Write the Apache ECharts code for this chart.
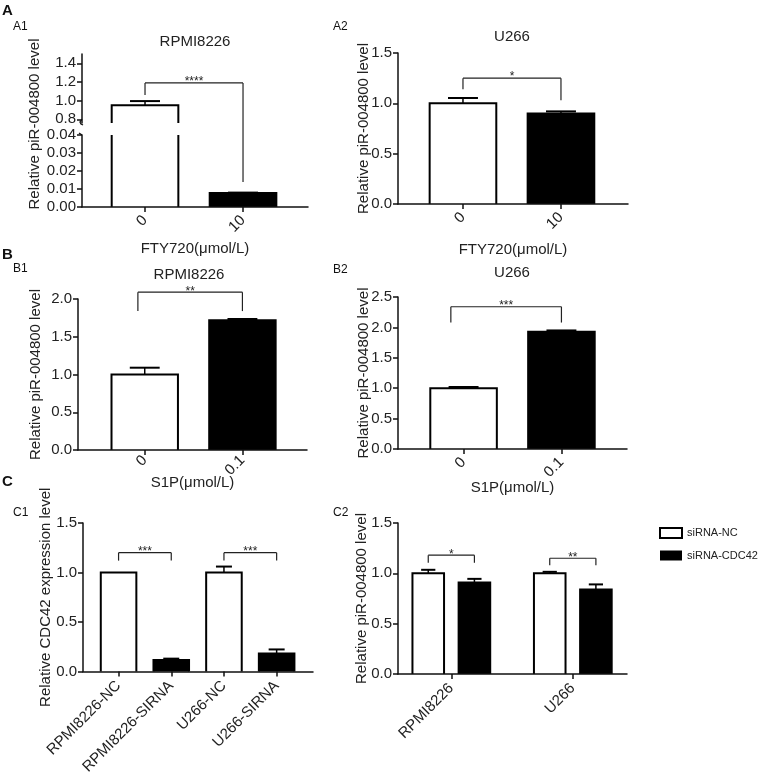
<!DOCTYPE html>
<html><head><meta charset="utf-8">
<script src="https://cdn.jsdelivr.net/npm/echarts@6/dist/echarts.min.js"></script>
<style>html,body{margin:0;padding:0;background:#fff}#c{width:767px;height:777px}</style>
</head><body><div id="c"></div><script>
// ---------------- data ----------------
const catsA = ['0', '10'];
const catsB = ['0', '0.1'];
const catsC1 = ['RPMI8226-NC', 'RPMI8226-SIRNA', 'U266-NC', 'U266-SIRNA'];
const catsC2 = ['RPMI8226', 'U266'];
const legendNames = ['siRNA-NC', 'siRNA-CDC42'];

const a1Mean = [0.95, 0.0078];
const a1Sem = [0.045, 0.0002];
const a2Mean = [1.0, 0.90];
const a2Sem = [0.053, 0.02];
const b1Mean = [1.0, 1.72];
const b1Sem = [0.09, 0.015];
const b2Mean = [1.0, 1.93];
const b2Sem = [0.02, 0.02];
const c1Mean = [1.0, 0.117, 1.0, 0.183];
const c1Sem = [0, 0.013, 0.06, 0.04];
const c2NcMean = [1.0, 1.0];
const c2NcSem = [0.035, 0.015];
const c2SiMean = [0.91, 0.84];
const c2SiSem = [0.035, 0.05];

// significance brackets: [xLeft, xRight, yBracket, yLeftEnd, yRightEnd]
const sigA1 = [[0, 1, 1.19, 1.06, 0.0139]];
const sigA1Text = ['****'];
const sigA2 = [[0, 1, 1.25, 1.14, 1.03]];
const sigA2Text = ['*'];
const sigB1 = [[-0.07, 1, 2.09, 1.84, 1.84]];
const sigB1Text = ['**'];
const sigB2 = [[-0.13, 1, 2.34, 2.08, 2.08]];
const sigB2Text = ['***'];
const sigC1 = [[0, 1, 1.2, 1.12, 1.12], [2, 3, 1.2, 1.12, 1.12]];
const sigC1Text = ['***', '***'];
const sigC2 = [[-0.19, 0.19, 1.18, 1.105, 1.105], [0.81, 1.19, 1.15, 1.08, 1.08]];
const sigC2Text = ['*', '**'];

const a1UpperTicks = [0.8, 1.0, 1.2, 1.4];

// ---------------- helpers ----------------
const FONT = 'Liberation Sans, Arial, sans-serif';
const INK = '#111';
const toData = (m, s) => m.map((v, i) => [i, v, s[i]]);
const idx = (cats) => cats.map((_, i) => i);

function makeBarRender(fills, bw, offset) {
  return function (params, api) {
    const cs = params.coordSys;
    const x = api.value(0) + offset, v = api.value(1), e = api.value(2);
    const p = api.coord([x, v]);
    const base = api.coord([x, 0]);
    const hw = api.size([bw, 0])[0] / 2;
    const top0 = cs.y, bot0 = cs.y + cs.height;
    let yTop = p[1];
    const yBase = Math.min(base[1], bot0);
    if (yTop >= bot0) return { type: 'group', children: [] };
    const capped = yTop < top0;
    if (capped) yTop = top0;
    const l = p[0] - hw, r = p[0] + hw;
    const fill = fills[params.dataIndex % fills.length];
    const ls = { stroke: '#000', lineWidth: 2, fill: null };
    const ch = [{ type: 'rect', shape: { x: l, y: yTop, width: r - l, height: yBase - yTop }, style: { fill: fill } }];
    if (capped) {
      ch.push({ type: 'line', shape: { x1: l, y1: yTop, x2: l, y2: yBase }, style: ls });
      ch.push({ type: 'line', shape: { x1: r, y1: yTop, x2: r, y2: yBase }, style: ls });
    } else {
      ch.push({ type: 'polyline', shape: { points: [[l, yBase], [l, yTop], [r, yTop], [r, yBase]] }, style: ls });
      if (e > 0) {
        const pe = api.coord([x, v + e]);
        const cw = hw * 0.45;
        ch.push({ type: 'line', shape: { x1: p[0], y1: yTop, x2: p[0], y2: pe[1] }, style: { stroke: '#000', lineWidth: 1.5 } });
        ch.push({ type: 'line', shape: { x1: p[0] - cw, y1: pe[1], x2: p[0] + cw, y2: pe[1] }, style: { stroke: '#000', lineWidth: 2 } });
      }
    }
    return { type: 'group', children: ch };
  };
}

function makeSigRender(texts, ext) {
  return function (params, api) {
    const cs = params.coordSys;
    const x1 = api.value(0), x2 = api.value(1), y = api.value(2), yl = api.value(3), yr = api.value(4);
    const a = api.coord([x1, y]), b = api.coord([x2, y]);
    const c = api.coord([x1, yl]), d = api.coord([x2, yr]);
    const lo = cs.y - (ext || 0), hi = cs.y + cs.height + (ext || 0);
    const clamp = ext == null ? (t => t) : (t => Math.min(Math.max(t, lo), hi));
    const st = { stroke: '#222', lineWidth: 1.2 };
    const ch = [];
    const seg = (xx, y1, y2) => {
      const u = clamp(y1), w = clamp(y2);
      if (Math.abs(u - w) > 0.5) ch.push({ type: 'line', shape: { x1: xx, y1: u, x2: xx, y2: w }, style: st });
    };
    seg(a[0], a[1], c[1]);
    seg(b[0], b[1], d[1]);
    const inRange = ext == null || (a[1] >= lo && a[1] <= hi);
    if (inRange) {
      ch.push({ type: 'line', shape: { x1: a[0], y1: a[1], x2: b[0], y2: b[1] }, style: st });
      ch.push({ type: 'text', x: (a[0] + b[0]) / 2, y: a[1] + 5,
        style: { text: texts[params.dataIndex], font: '12px ' + FONT, fill: '#222',
          textAlign: 'center', align: 'center', textVerticalAlign: 'bottom', verticalAlign: 'bottom' } });
    }
    return { type: 'group', children: ch };
  };
}

// small axis-break hook drawn at the end of a y-axis segment (decoration only)
function makeBreakRender(atBottom) {
  return function (params) {
    const cs = params.coordSys;
    const x = cs.x, y = atBottom ? cs.y + cs.height : cs.y;
    return { type: 'polyline', shape: { points: atBottom
        ? [[x, y - 4], [x - 2, y - 1], [x - 1, y + 1], [x + 1, y + 2]]
        : [[x - 3, y - 2], [x, y]] },
      style: { stroke: INK, lineWidth: 1.3, fill: null } };
  };
}

const axLine = { color: INK, width: 1.5 };
const nameStyle = { fontSize: 15, color: '#222', fontFamily: FONT };
function xAx(gi, min, max, cats, name, nameGap, show, margin) {
  const t = idx(cats);
  return {
    gridIndex: gi, type: 'value', min: min, max: max, show: show !== false, z: 3,
    splitLine: { show: false },
    axisLine: { onZero: false, lineStyle: axLine },
    axisTick: { show: true, length: 5, lineStyle: axLine, customValues: t },
    axisLabel: { customValues: t, rotate: 45, margin: margin || 11, fontSize: 15, color: '#222', fontFamily: FONT,
      formatter: v => cats[Math.round(v)] },
    name: name || '', nameLocation: 'middle', nameGap: nameGap || 30, nameMoveOverlap: false,
    nameTextStyle: nameStyle
  };
}
function yAx(gi, min, max, interval, dec, name, nameGap, ticks) {
  const o = {
    gridIndex: gi, type: 'value', min: min, max: max, z: 3,
    splitLine: { show: false },
    axisLine: { show: true, onZero: false, lineStyle: axLine },
    axisTick: { show: true, length: 5, lineStyle: axLine },
    axisLabel: { margin: 6, fontSize: 15, color: '#222', fontFamily: FONT, formatter: v => v.toFixed(dec) },
    name: name || '', nameLocation: 'middle', nameRotate: 90, nameGap: nameGap || 30, nameMoveOverlap: false,
    nameTextStyle: nameStyle
  };
  if (interval != null) o.interval = interval;
  if (ticks) { o.axisTick.customValues = ticks; o.axisLabel.customValues = ticks; }
  return o;
}

const yTitle = 'Relative piR-004800 level';
const grids = [
  { left: 82, top: 54, width: 226, height: 69 },   // 0 A1 upper
  { left: 82, top: 135, width: 226, height: 72 },  // 1 A1 lower
  { left: 398, top: 53, width: 230, height: 151 }, // 2 A2
  { left: 78, top: 299, width: 229, height: 151 }, // 3 B1
  { left: 398, top: 297, width: 229, height: 152 },// 4 B2
  { left: 83, top: 523, width: 230, height: 151 }, // 5 C1
  { left: 398, top: 523, width: 229, height: 151 } // 6 C2
];

const xAxes = [
  xAx(0, -0.643, 1.663, catsA, '', 30, false),
  xAx(1, -0.643, 1.663, catsA, 'FTY720(μmol/L)', 34),
  xAx(2, -0.663, 1.684, catsA, 'FTY720(μmol/L)', 38),
  xAx(3, -0.683, 1.661, catsB, 'S1P(μmol/L)', 25, true, 8),
  xAx(4, -0.67, 1.67, catsB, 'S1P(μmol/L)', 31),
  xAx(5, -0.675, 3.69, catsC1, '', 30, true, 12),
  xAx(6, -0.439, 1.446, catsC2, '', 30, true, 12)
];
const yAxes = [
  yAx(0, 0.76, 1.5, null, 1, '', 30, a1UpperTicks),
  yAx(1, 0, 0.04, 0.01, 2, '', 30),
  yAx(2, 0, 1.5, 0.5, 1, yTitle, 27),
  yAx(3, 0, 2.0, 0.5, 1, yTitle, 35),
  yAx(4, 0, 2.5, 0.5, 1, yTitle, 27),
  yAx(5, 0, 1.5, 0.5, 1, 'Relative CDC42 expression level', 30),
  yAx(6, 0, 1.5, 0.5, 1, yTitle, 29)
];

function bars(gi, data, fills, bw, offset, name) {
  return { type: 'custom', name: name, xAxisIndex: gi, yAxisIndex: gi, data: data, encode: { x: 0, y: 1 },
    renderItem: makeBarRender(fills, bw, offset || 0), z: 2,
    itemStyle: { color: fills[0], borderColor: '#000' } };
}
function sig(gi, data, texts, ext) {
  return { type: 'custom', xAxisIndex: gi, yAxisIndex: gi, data: data, encode: { x: 0, y: 2 },
    renderItem: makeSigRender(texts, ext), z: 4 };
}
function brk(gi, atBottom) {
  return { type: 'custom', xAxisIndex: gi, yAxisIndex: gi, data: [[0, 0]], silent: true,
    renderItem: makeBreakRender(atBottom), z: 5 };
}
const WB = ['#fff', '#000'];
const series = [
  bars(0, toData(a1Mean, a1Sem), WB, 0.68),
  bars(1, toData(a1Mean, a1Sem), WB, 0.68),
  sig(0, sigA1, sigA1Text, 6),
  sig(1, sigA1, sigA1Text, 6),
  brk(0, true),
  brk(1, false),
  bars(2, toData(a2Mean, a2Sem), WB, 0.68),
  sig(2, sigA2, sigA2Text),
  bars(3, toData(b1Mean, b1Sem), WB, 0.68),
  sig(3, sigB1, sigB1Text),
  bars(4, toData(b2Mean, b2Sem), WB, 0.68),
  sig(4, sigB2, sigB2Text),
  bars(5, toData(c1Mean, c1Sem), WB, 0.675),
  sig(5, sigC1, sigC1Text),
  bars(6, toData(c2NcMean, c2NcSem), ['#fff'], 0.26, -0.19, legendNames[0]),
  bars(6, toData(c2SiMean, c2SiSem), ['#000'], 0.26, 0.19, legendNames[1]),
  sig(6, sigC2, sigC2Text)
];

function txt(s, x, y, size, opts) {
  return Object.assign({ type: 'text', x: x, y: y, silent: true,
    style: Object.assign({ text: s, font: (opts && opts.bold ? 'bold ' : '') + size + 'px ' + FONT, fill: '#111',
      textAlign: 'left', align: 'left', textVerticalAlign: 'top', verticalAlign: 'top' }, (opts && opts.style) || {}) },
    (opts && opts.el) || {});
}
const center = { textAlign: 'center', align: 'center', textVerticalAlign: 'middle', verticalAlign: 'middle', fill: '#222' };
const graphics = [
  txt('A', 2, 3, 15, { bold: true }),
  txt('A1', 13, 21, 12),
  txt('A2', 333, 21, 12),
  txt('B', 2, 247, 15, { bold: true }),
  txt('B1', 13, 263, 12),
  txt('B2', 333, 264, 12),
  txt('C', 2, 474, 15, { bold: true }),
  txt('C1', 13, 507, 12),
  txt('C2', 333, 507, 12),
  txt('RPMI8226', 195, 42, 15, { style: center }),
  txt('U266', 512, 37, 15, { style: center }),
  txt('RPMI8226', 189, 275, 15, { style: center }),
  txt('U266', 512, 273, 15, { style: center }),
  txt(yTitle, 35, 124, 15, { style: center, el: { rotation: Math.PI / 2 } })
];

const chart = echarts.init(document.getElementById('c'), null, { renderer: 'canvas' });
chart.setOption({
  animation: false,
  backgroundColor: '#fff',
  grid: grids,
  xAxis: xAxes,
  yAxis: yAxes,
  series: series,
  legend: {
    orient: 'vertical', left: 654, top: 522, itemWidth: 22, itemHeight: 10, itemGap: 11, icon: 'rect',
    textStyle: { fontSize: 11, color: '#222', fontFamily: FONT },
    data: [
      { name: legendNames[0], itemStyle: { color: '#fff', borderColor: '#000', borderWidth: 2 } },
      { name: legendNames[1], itemStyle: { color: '#000', borderColor: '#000', borderWidth: 0 } }
    ]
  },
  graphic: graphics
});
</script></body></html>
